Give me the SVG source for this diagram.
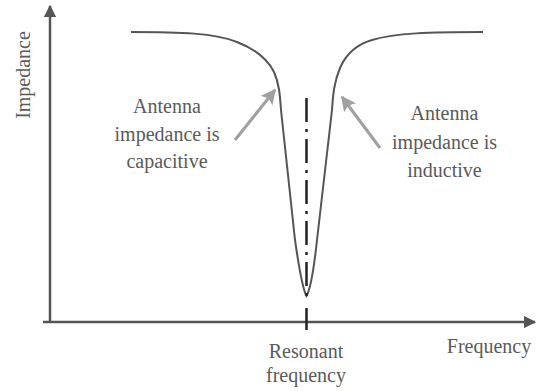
<svg xmlns="http://www.w3.org/2000/svg" width="536" height="391" viewBox="0 0 536 391">
<defs>
<style>
.axis{stroke:#555;stroke-width:2.5;fill:none}
.curve{stroke:#555;stroke-width:2;fill:none}
.garrow{stroke:#a0a0a0;stroke-width:3;fill:none}
</style>
<marker id="axhead" viewBox="0 0 10 10" refX="9" refY="5" markerWidth="5" markerHeight="5" markerUnits="strokeWidth" orient="auto">
<path d="M0,0 L10,5 L0,10 Z" fill="#555"/>
</marker>
<marker id="ghead" viewBox="0 0 10 10" refX="9" refY="5" markerWidth="5" markerHeight="5" markerUnits="strokeWidth" orient="auto">
<path d="M0,0 L10,5 L0,10 L2,5 Z" fill="#a0a0a0"/>
</marker>
</defs>
<rect width="536" height="391" fill="#fff"/>
<g id="axes">
<line class="axis" x1="50" y1="322" x2="50" y2="6" marker-end="url(#axhead)"/>
<line class="axis" x1="43" y1="322" x2="535" y2="322" marker-end="url(#axhead)"/>
<line x1="306.5" y1="308" x2="306.5" y2="330" stroke="#222" stroke-width="2.5"/>
</g>
<g id="curve">
<path class="curve" d="M131,32 C180,32 215,33 237,42 C255,49 268,60 274,72 C279,83 280,95 281,110 L295,240 C299,268 303,290 306.5,296 C310,290 314,268 317,240 L332,110 C333,95 334,82 340,68 C347,52 358,44 372,40 C395,33 430,32 483,32"/>
</g>
<g id="resonance-line">
<line x1="306.5" y1="98" x2="306.5" y2="300" stroke="#222" stroke-width="2.5" stroke-dasharray="24 7 3 7"/>
</g>
<g id="connectors">
<line class="garrow" x1="235" y1="140" x2="275" y2="90" marker-end="url(#ghead)"/>
<line class="garrow" x1="380" y1="148" x2="342" y2="97" marker-end="url(#ghead)"/>
</g>
<g font-family="Liberation Serif, Times New Roman, DejaVu Serif, serif" font-size="20" fill="#5a5a5a" text-anchor="middle">
<g id="label-impedance">
<text transform="translate(30,75) rotate(-90)">Impedance</text>
</g>
<g id="label-capacitive">
<text x="167" y="113">Antenna</text>
<text x="167" y="141">impedance is</text>
<text x="167" y="168">capacitive</text>
</g>
<g id="label-inductive">
<text x="444.5" y="120">Antenna</text>
<text x="444.5" y="149">impedance is</text>
<text x="444.5" y="177">inductive</text>
</g>
<g id="label-resonant">
<text x="306" y="358">Resonant</text>
<text x="306" y="382">frequency</text>
</g>
<g id="label-frequency">
<text x="489" y="353">Frequency</text>
</g>
</g>
</svg>
